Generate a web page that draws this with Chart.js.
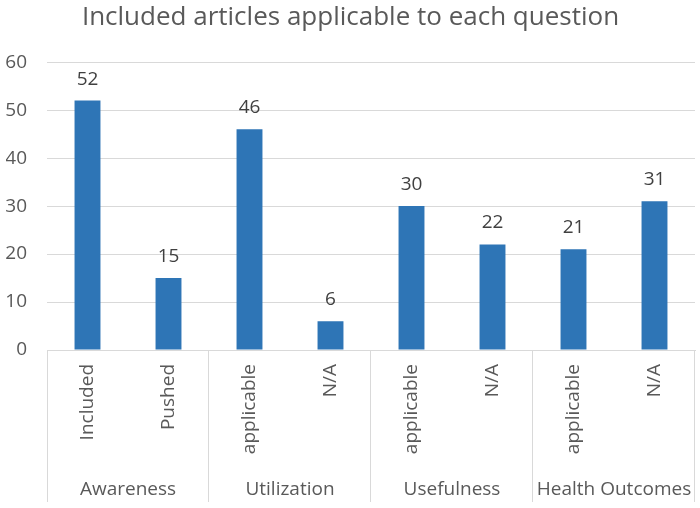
<!DOCTYPE html>
<html>
<head>
<meta charset="utf-8">
<script src="https://cdn.jsdelivr.net/npm/chart.js@4"></script>
<style>
  html, body { margin: 0; padding: 0; background: #fff; }
  #wrap { width: 700px; height: 508px; }
</style>
</head>
<body>
<div id="wrap"><canvas id="chart"></canvas></div>
<script>
// --- data ---
const subLabels = ['Included', 'Pushed', 'applicable', 'N/A', 'applicable', 'N/A', 'applicable', 'N/A'];
const articleCounts = [52, 15, 46, 6, 30, 22, 21, 31];
const groupLabels = ['Awareness', 'Utilization', 'Usefulness', 'Health Outcomes'];
const groupSizes = [2, 2, 2, 2];
const yTicks = [0, 10, 20, 30, 40, 50, 60];

const textColor = '#595959';
const lineColor = '#d9d9d9';
const fontFamily = "'Open Sans', sans-serif";

// value labels above each bar
const valueLabels = {
    id: 'valueLabels',
    afterDatasetsDraw(chart) {
        const ctx = chart.ctx;
        const meta = chart.getDatasetMeta(0);
        ctx.save();
        ctx.font = '19px ' + fontFamily;
        ctx.fillStyle = '#404040';
        ctx.textAlign = 'center';
        ctx.textBaseline = 'alphabetic';
        meta.data.forEach((bar, i) => {
            ctx.fillText(articleCounts[i], bar.x, bar.y - 16);
        });
        ctx.restore();
    }
};

// group separators and group names under the rotated labels
const groupAxis = {
    id: 'groupAxis',
    afterDraw(chart) {
        const ctx = chart.ctx;
        const x = chart.scales.x;
        const top = chart.chartArea.bottom;
        const bottom = chart.height - 6;
        const half = (x.getPixelForValue(1) - x.getPixelForValue(0)) / 2;
        ctx.save();
        ctx.strokeStyle = lineColor;
        ctx.lineWidth = 1;
        ctx.font = '19px ' + fontFamily;
        ctx.fillStyle = textColor;
        ctx.textAlign = 'center';
        ctx.textBaseline = 'middle';
        let start = 0;
        groupSizes.forEach((size, g) => {
            const left = x.getPixelForValue(start) - half;
            const right = x.getPixelForValue(start + size - 1) + half;
            if (g === 0) {
                ctx.beginPath();
                ctx.moveTo(Math.round(left) + 0.5, top);
                ctx.lineTo(Math.round(left) + 0.5, bottom);
                ctx.stroke();
            }
            ctx.beginPath();
            ctx.moveTo(Math.round(right) - 0.5, top);
            ctx.lineTo(Math.round(right) - 0.5, bottom);
            ctx.stroke();
            ctx.fillText(groupLabels[g], (left + right) / 2, chart.height - 18);
            start += size;
        });
        ctx.restore();
    }
};

new Chart(document.getElementById('chart'), {
    type: 'bar',
    data: {
        labels: subLabels,
        datasets: [{
            data: articleCounts,
            backgroundColor: '#2e75b6',
            barPercentage: 0.32,
            categoryPercentage: 1
        }]
    },
    plugins: [valueLabels, groupAxis],
    options: {
        responsive: true,
        maintainAspectRatio: false,
        animation: false,
        layout: { padding: { left: 6, right: 5, top: 0, bottom: 0 } },
        plugins: {
            legend: { display: false },
            tooltip: { enabled: false },
            title: {
                display: true,
                text: 'Included articles applicable to each question',
                color: textColor,
                font: { family: fontFamily, size: 26, weight: 'normal' },
                padding: { top: 2, bottom: 29 }
            }
        },
        scales: {
            y: {
                min: 0,
                max: 60,
                afterBuildTicks(scale) {
                    scale.ticks = yTicks.map(v => ({ value: v }));
                },
                afterFit(scale) {
                    scale.width = 41;
                },
                ticks: {
                    color: textColor,
                    font: { family: fontFamily, size: 19 },
                    padding: 20
                },
                grid: { color: lineColor, drawTicks: false },
                border: { display: false }
            },
            x: {
                ticks: {
                    color: textColor,
                    font: { family: fontFamily, size: 19 },
                    minRotation: 90,
                    maxRotation: 90,
                    padding: 6
                },
                grid: { display: false },
                border: { color: lineColor },
                afterFit(scale) {
                    scale.height = 158;
                }
            }
        }
    }
});
</script>
</body>
</html>
